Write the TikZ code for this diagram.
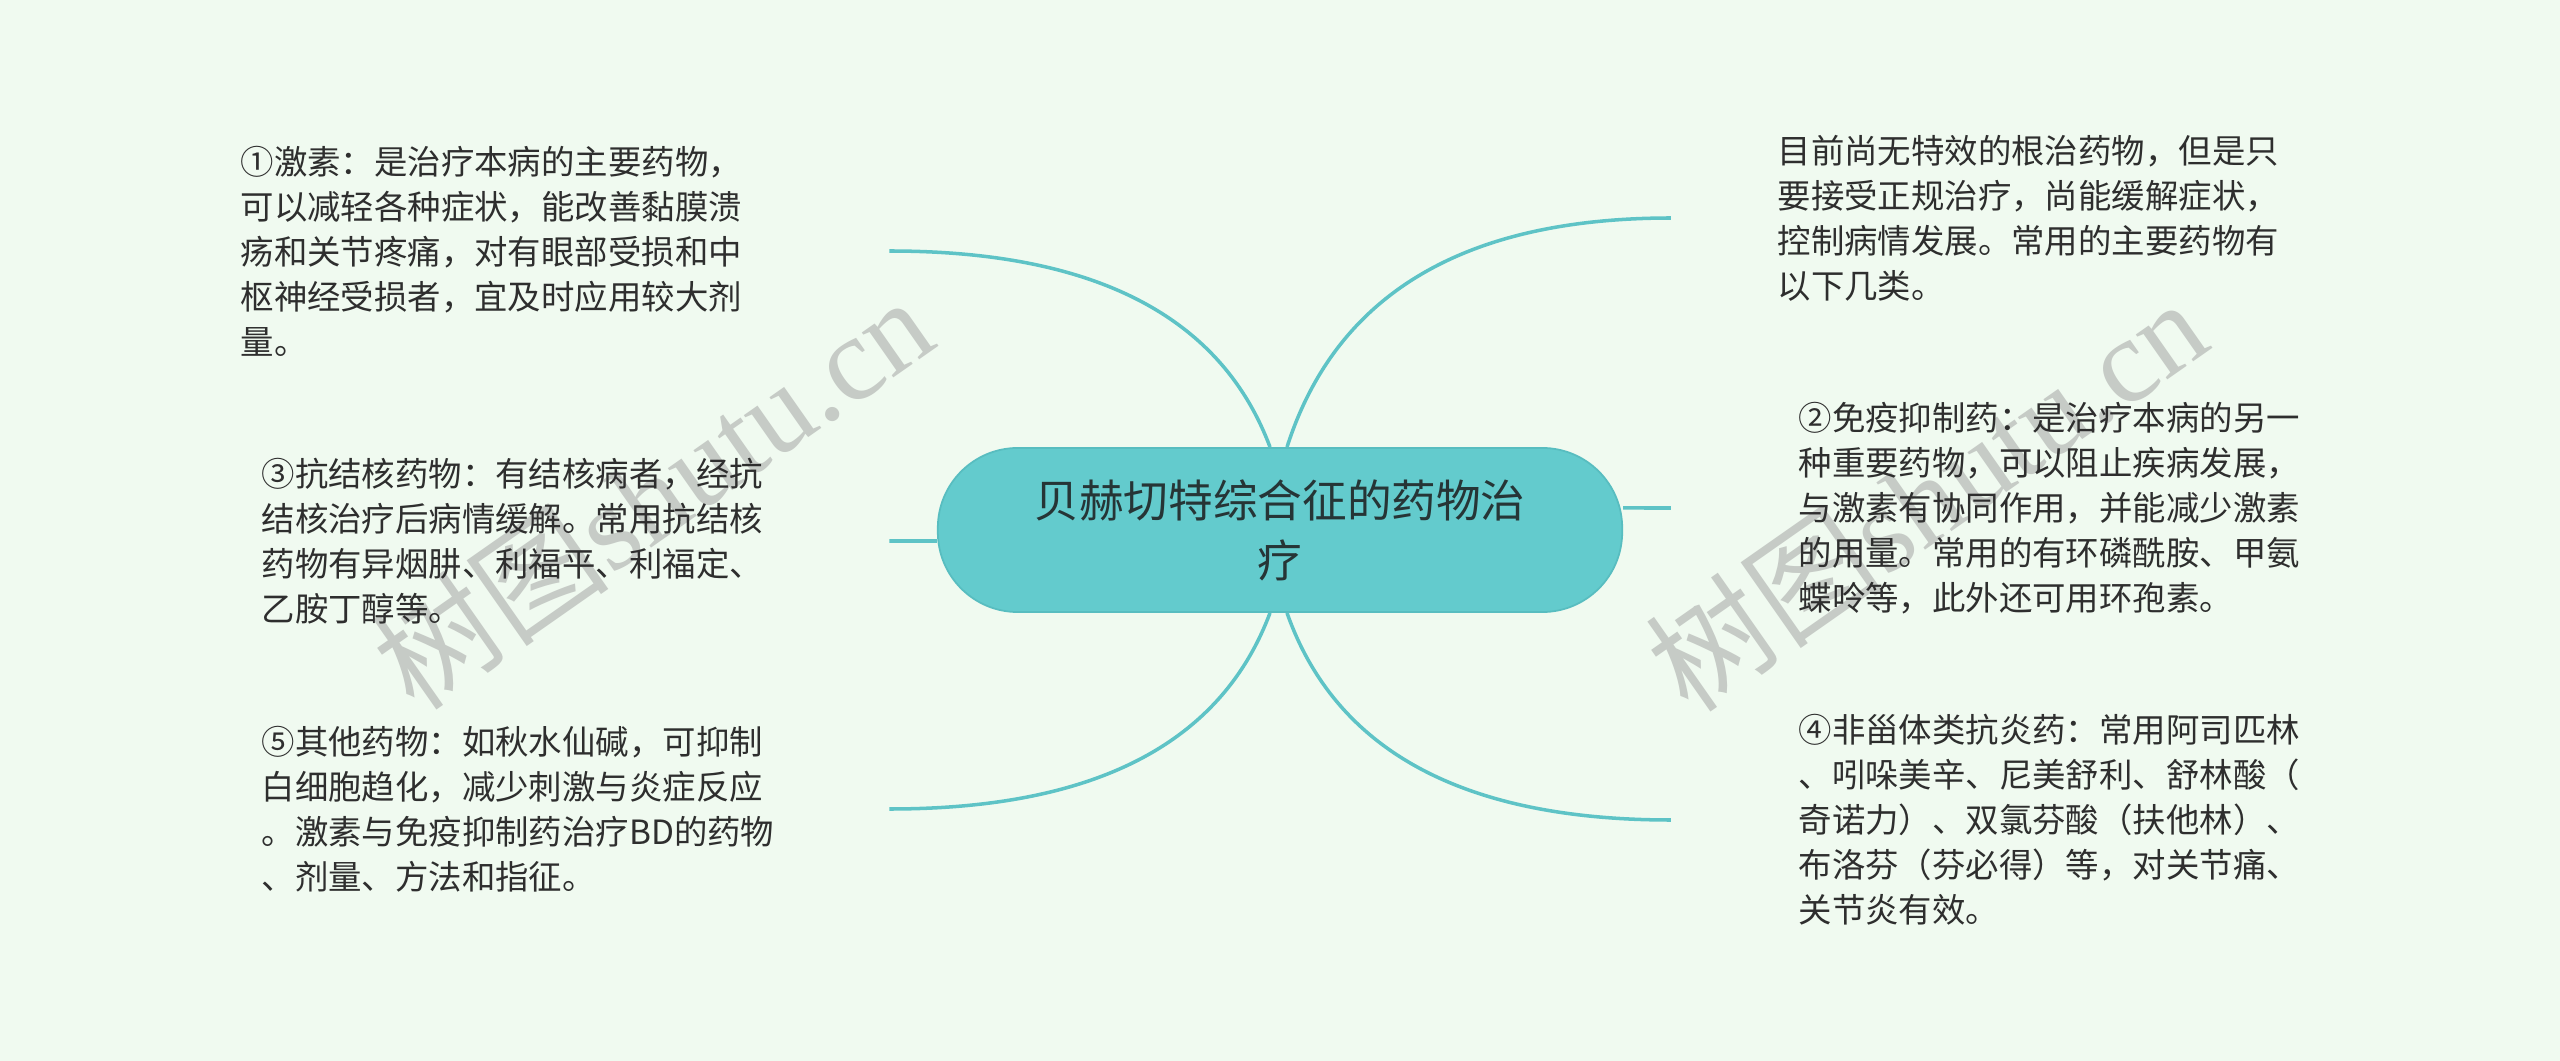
\documentclass[tikz,border=0pt]{standalone}
\usepackage{fontspec}
\newfontfamily\cjk{Noto Sans CJK SC}
\newfontfamily\wmserif{Liberation Serif}
\definecolor{bgc}{HTML}{F0FAF0}
\definecolor{linec}{HTML}{5EC3C6}
\definecolor{hubfill}{HTML}{63CBCD}
\definecolor{hubline}{HTML}{58BDC0}
\definecolor{hubtext}{HTML}{263536}
\definecolor{txt}{HTML}{2E2E2E}
\definecolor{wmc}{HTML}{C6CBC6}
\begin{document}
\begin{tikzpicture}[x=0.01cm,y=-0.01cm,
  leaf/.style={anchor=west, align=left, inner sep=0pt, text=txt,
    font=\cjk\fontsize{9.5pt}{12.8pt}\selectfont},
  conn/.style={draw=linec, line width=1pt},
  hub/.style={fill=hubfill, draw=hubline, line width=0.5pt, rounded corners=0.8cm,
    minimum width=6.84cm, minimum height=1.64cm, align=center, text=hubtext,
    font=\cjk\fontsize{12.7pt}{17.1pt}\selectfont},
  wm/.style={text=wmc, inner sep=0pt, font=\fontsize{34pt}{38pt}\selectfont}]
\useasboundingbox (0,0) rectangle (2560,1061);
\fill[bgc] (0,0) rectangle (2560,1061);

% watermarks
\node[wm, rotate=35] (wm1) at (652,492) {{\cjk 树图}{\wmserif shutu.cn}};
\node[wm, rotate=35] (wm2) at (1926,494) {{\cjk 树图}{\wmserif shutu.cn}};

% central node
\node[hub] (hub) at (1280,530) {贝赫切特综合征的药物治\\疗};

% leaves
\node[leaf] (l1) at (240,251) {①激素：是治疗本病的主要药物，\\可以减轻各种症状，能改善黏膜溃\\疡和关节疼痛，对有眼部受损和中\\枢神经受损者，宜及时应用较大剂\\量。};
\node[leaf] (l2) at (261,541) {③抗结核药物：有结核病者，经抗\\结核治疗后病情缓解。常用抗结核\\药物有异烟肼、利福平、利福定、\\乙胺丁醇等。};
\node[leaf] (l3) at (261,809) {⑤其他药物：如秋水仙碱，可抑制\\白细胞趋化，减少刺激与炎症反应\\。激素与免疫抑制药治疗BD的药物\\、剂量、方法和指征。};
\node[leaf] (r1) at (1777,218) {目前尚无特效的根治药物，但是只\\要接受正规治疗，尚能缓解症状，\\控制病情发展。常用的主要药物有\\以下几类。};
\node[leaf] (r2) at (1798,508) {②免疫抑制药：是治疗本病的另一\\种重要药物，可以阻止疾病发展，\\与激素有协同作用，并能减少激素\\的用量。常用的有环磷酰胺、甲氨\\蝶呤等，此外还可用环孢素。};
\node[leaf] (r3) at (1798,820) {④非甾体类抗炎药：常用阿司匹林\\、吲哚美辛、尼美舒利、舒林酸（\\奇诺力）、双氯芬酸（扶他林）、\\布洛芬（芬必得）等，对关节痛、\\关节炎有效。};

% connector ends
\coordinate (e1) at ([xshift=6.49cm]l1.west);
\coordinate (e2) at ([xshift=6.28cm]l2.west);
\coordinate (e3) at ([xshift=6.28cm]l3.west);
\coordinate (e4) at ([xshift=-1.06cm]r1.west);
\coordinate (e5) at ([xshift=-1.27cm]r2.west);
\coordinate (e6) at ([xshift=-1.27cm]r3.west);

% connectors
\draw[conn] ([xshift=-0.1cm]hub.north) .. controls +(-49,-131) and +(205,0) .. (e1);
\draw[conn] ([yshift=-0.11cm]hub.west) -- (e2);
\draw[conn] ([xshift=-0.1cm]hub.south) .. controls +(-49,131) and +(205,0) .. (e3);
\draw[conn] ([xshift=0.07cm]hub.north) .. controls +(49,-153) and +(-207,0) .. (e4);
\draw[conn] ([yshift=0.22cm]hub.east) -- (e5);
\draw[conn] ([xshift=0.07cm]hub.south) .. controls +(49,139) and +(-206,0) .. (e6);
\end{tikzpicture}
\end{document}
